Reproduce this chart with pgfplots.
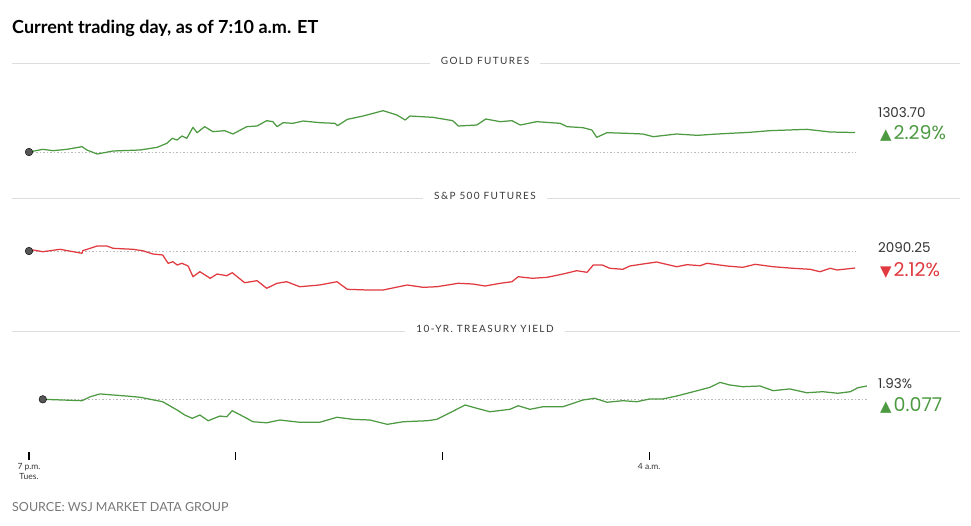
\documentclass[border=0pt]{standalone}
\usepackage{fontspec}
\setmainfont{Lato}
\newfontfamily\numfont{Poppins}
\newfontfamily\symfont{DejaVu Sans}
\newfontfamily\capsfont[LetterSpace=14]{Lato}
\usepackage{pgfplots}
\usepackage{pgfplotstable}
\pgfplotsset{compat=1.18}

\definecolor{upgreen}{HTML}{4E9A43}
\definecolor{downred}{HTML}{E0393F}
\definecolor{dotgray}{HTML}{555555}
\definecolor{rulegray}{HTML}{DDDDDD}
\definecolor{basegray}{HTML}{BBBBBB}
\definecolor{headgray}{HTML}{3A3A3A}
\definecolor{numgray}{HTML}{333333}
\definecolor{srcgray}{HTML}{777777}

% hours after 7 p.m. Tues., value
\pgfplotstableread{
h v
0.00 1274.5
0.20 1278.5
0.35 1276.5
0.55 1278.5
0.77 1282.5
0.84 1277.5
0.99 1271.5
1.22 1276.0
1.61 1277.5
1.86 1281.5
2.00 1287.5
2.08 1295.0
2.15 1292.5
2.22 1298.5
2.29 1295.0
2.38 1311.5
2.44 1303.5
2.55 1312.5
2.67 1305.0
2.84 1306.5
2.96 1301.5
3.16 1312.5
3.31 1313.5
3.45 1321.5
3.54 1320.0
3.60 1312.5
3.69 1318.5
3.83 1317.5
3.98 1321.0
4.22 1318.5
4.44 1317.5
4.48 1314.0
4.62 1323.5
4.85 1328.5
5.14 1336.5
5.34 1330.0
5.46 1322.5
5.53 1328.5
5.86 1326.5
6.15 1321.5
6.23 1313.5
6.50 1315.0
6.63 1324.0
6.84 1320.0
7.01 1321.5
7.13 1315.0
7.37 1320.0
7.71 1317.5
7.81 1312.5
8.04 1311.0
8.17 1307.5
8.24 1296.5
8.39 1303.5
8.68 1302.5
8.91 1301.5
9.06 1297.5
9.40 1301.5
9.70 1299.5
9.99 1301.5
10.46 1304.0
10.75 1306.5
11.29 1308.5
11.63 1304.5
11.99 1303.7
}\gold

\pgfplotstableread{
h v
0.00 2135.5
0.06 2138.2
0.20 2133.6
0.45 2140.0
0.77 2129.4
0.78 2136.3
0.99 2148.8
1.13 2148.8
1.22 2142.7
1.51 2140.0
1.65 2136.3
1.80 2127.5
1.94 2124.9
2.02 2102.8
2.09 2107.0
2.15 2098.3
2.22 2102.8
2.31 2095.6
2.38 2067.1
2.48 2080.4
2.63 2062.9
2.73 2074.3
2.87 2069.8
2.95 2077.8
3.13 2051.2
3.31 2056.5
3.45 2036.3
3.60 2049.6
3.74 2053.8
3.93 2040.5
4.22 2045.1
4.47 2053.8
4.62 2033.6
4.91 2031.8
5.14 2031.8
5.49 2045.1
5.72 2038.9
5.92 2040.5
6.23 2049.6
6.44 2047.7
6.62 2042.4
6.84 2049.6
7.01 2053.8
7.10 2067.1
7.31 2062.9
7.52 2065.5
7.75 2074.3
7.95 2083.1
8.10 2078.8
8.19 2098.3
8.32 2098.3
8.43 2089.5
8.62 2086.8
8.72 2095.6
8.91 2100.9
9.11 2106.2
9.40 2093.7
9.55 2099.1
9.74 2096.4
9.84 2102.8
10.13 2095.6
10.36 2092.1
10.54 2100.1
10.80 2093.7
11.09 2089.5
11.34 2086.8
11.48 2080.4
11.63 2089.5
11.73 2085.0
11.99 2090.25
}\spx

\pgfplotstableread{
h v
0.20 1.853
0.77 1.845
0.89 1.868
1.03 1.884
1.22 1.878
1.42 1.872
1.61 1.865
1.94 1.839
2.15 1.791
2.26 1.762
2.37 1.743
2.48 1.762
2.60 1.729
2.77 1.756
2.87 1.752
2.95 1.787
3.16 1.743
3.25 1.723
3.45 1.717
3.64 1.733
3.93 1.720
4.22 1.720
4.47 1.749
4.70 1.737
4.95 1.733
5.20 1.708
5.43 1.723
5.78 1.729
5.92 1.737
6.11 1.775
6.33 1.820
6.50 1.801
6.69 1.781
6.98 1.795
7.10 1.816
7.27 1.795
7.46 1.810
7.75 1.810
8.04 1.849
8.21 1.859
8.39 1.836
8.62 1.845
8.82 1.839
9.01 1.855
9.20 1.855
9.40 1.872
9.70 1.903
9.88 1.922
10.03 1.951
10.17 1.936
10.36 1.926
10.61 1.930
10.80 1.903
11.04 1.913
11.29 1.891
11.52 1.897
11.74 1.888
11.92 1.897
12.03 1.920
12.16 1.930
}\tsy

\pgfplotsset{
  panel/.style={scale only axis, width=838pt, height=60pt,
    xmin=0, xmax=12.163, anchor=south west, clip=false},
  trace/.style={line width=1.25pt, line join=round},
  base/.style={basegray, line width=0.6pt, dash pattern=on 1.5pt off 2pt},
  startdot/.style={only marks, mark=*, mark size=3.8pt,
    mark options={fill=dotgray, draw=none}},
}

\begin{document}
\begin{tikzpicture}[x=1pt, y=-1pt]
\path (0,0) rectangle (971,525);

\node[anchor=base west, inner sep=0pt, font=\bfseries\fontsize{18}{22}\selectfont]
  at (12,33) {Current trading day, as of 7:10 a.m. ET};

% section headers
\foreach \yy/\lab in {63/GOLD FUTURES, 198/S\&P 500 FUTURES, 331/10-YR. TREASURY YIELD}{
  \draw[rulegray, line width=0.8pt] (12,\yy) -- (960,\yy);
  \node[fill=white, inner xsep=11pt, inner ysep=2pt, anchor=base, text=headgray,
    font=\capsfont\fontsize{10}{12}\selectfont] at (485,\yy+1.5) {\lab};
}

% gold: pixel 100..160
\begin{axis}[panel, hide axis, at={(29pt,-160pt)}, ymin=1262.5, ymax=1352.5]
\addplot[base] coordinates {(0,1274.5) (11.99,1274.5)};
\addplot[trace, upgreen] table[x=h, y=v] {\gold};
\addplot[startdot] coordinates {(0,1274.5)};
\end{axis}

% S&P 500: pixel 240..300
\begin{axis}[panel, hide axis, at={(29pt,-300pt)}, ymin=2005.16, ymax=2164.76]
\addplot[base] coordinates {(0,2135.5) (11.99,2135.5)};
\addplot[trace, downred] table[x=h, y=v] {\spx};
\addplot[startdot] coordinates {(0,2135.5)};
\end{axis}

% 10-yr yield: pixel 370..460, with the time axis
\begin{axis}[panel, at={(29pt,-460pt)}, height=90pt, ymin=1.5015, ymax=2.0227,
  hide y axis, axis x line*=bottom, x axis line style={draw=none},
  xtick={0,3,6,9}, xticklabels={{7 p.m.\\Tues.},,,{4 a.m.}},
  tick align=inside, major tick length=8pt,
  tick style={black, line width=1.1pt},
  xticklabel style={align=center, inner sep=0pt, yshift=-3pt, text=numgray,
    font=\fontsize{8.5}{10}\selectfont}]
\addplot[base] coordinates {(0.2,1.853) (12.16,1.853)};
\addplot[trace, upgreen] table[x=h, y=v] {\tsy};
\addplot[startdot] coordinates {(0.2,1.853)};
\end{axis}

% latest values
\node[anchor=base west, inner sep=0pt, text=numgray, font=\numfont\fontsize{13.5}{15}\selectfont]
  at (878,117) {1303.70};
\node[anchor=base west, inner sep=0pt, text=upgreen] at (880,139)
  {{\symfont\fontsize{15}{16}\selectfont ▲}\kern2pt{\numfont\fontsize{19}{22}\selectfont 2.29\%}};
\node[anchor=base west, inner sep=0pt, text=numgray, font=\numfont\fontsize{13.5}{15}\selectfont]
  at (878,252) {2090.25};
\node[anchor=base west, inner sep=0pt, text=downred] at (880,276)
  {{\symfont\fontsize{15}{16}\selectfont ▼}\kern2pt{\numfont\fontsize{19}{22}\selectfont 2.12\%}};
\node[anchor=base west, inner sep=0pt, text=numgray, font=\numfont\fontsize{13.5}{15}\selectfont]
  at (878,388) {1.93\%};
\node[anchor=base west, inner sep=0pt, text=upgreen] at (880,411)
  {{\symfont\fontsize{15}{16}\selectfont ▲}\kern2pt{\numfont\fontsize{19}{22}\selectfont 0.077}};

\node[anchor=base west, inner sep=0pt, text=srcgray, font=\fontsize{12.5}{15}\selectfont]
  at (12,511) {SOURCE: WSJ MARKET DATA GROUP};
\end{tikzpicture}
\end{document}
